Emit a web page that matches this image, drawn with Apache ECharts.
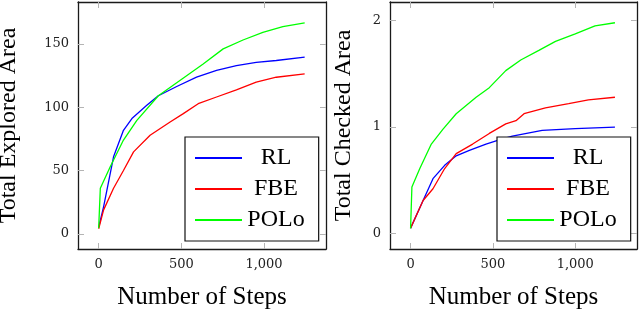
<!DOCTYPE html>
<html>
<head>
<meta charset="utf-8">
<script src="https://cdn.jsdelivr.net/npm/echarts@6/dist/echarts.min.js"></script>
<style>
html,body{margin:0;padding:0;background:#fff;}
#c{width:640px;height:311px;}
</style>
</head>
<body>
<div id="c"></div>
<script>
// ---- data ----
var seriesNames = ['RL', 'FBE', 'POLo'];
var xTicks = [0, 500, 1000];
var yTicksExplored = [0, 50, 100, 150];
var yTicksChecked = [0, 1, 2];

// Left chart: Total Explored Area
var exploredRLSteps = [0, 30, 90, 150, 201, 291, 361, 472, 592, 713, 833, 953, 1074, 1246];
var exploredRLValues = [5, 21.5, 60.8, 81.7, 91, 101.4, 109, 116.3, 123.7, 129, 132.8, 135.4, 136.8, 139.4];
var exploredFBESteps = [0, 30, 90, 150, 211, 311, 432, 512, 602, 713, 833, 953, 1074, 1246];
var exploredFBEValues = [4, 18.9, 36, 50, 64.7, 77.8, 88.3, 94.9, 102.7, 108, 113.7, 119.7, 123.6, 126.3];
var exploredPOLoSteps = [0, 10, 70, 150, 231, 361, 502, 632, 753, 873, 993, 1114, 1246];
var exploredPOLoValues = [4.5, 36, 53, 74, 89.6, 109, 122, 134, 146, 153, 159, 163.5, 166.6];

// Right chart: Total Checked Area
var checkedRLSteps = [0, 76, 136, 207, 277, 357, 458, 538, 618, 799, 1000, 1241];
var checkedRLValues = [0.05, 0.31, 0.515, 0.64, 0.73, 0.78, 0.84, 0.88, 0.915, 0.968, 0.985, 1.0];
var checkedFBESteps = [0, 76, 136, 207, 277, 377, 478, 578, 640, 689, 819, 960, 1080, 1241];
var checkedFBEValues = [0.05, 0.31, 0.42, 0.61, 0.75, 0.84, 0.94, 1.03, 1.06, 1.125, 1.18, 1.22, 1.256, 1.28];
var checkedPOLoSteps = [0, 8, 56, 126, 197, 277, 398, 478, 578, 669, 779, 880, 1000, 1120, 1241];
var checkedPOLoValues = [0.047, 0.437, 0.61, 0.84, 0.98, 1.125, 1.28, 1.37, 1.53, 1.63, 1.72, 1.805, 1.875, 1.95, 1.98];

function zip(xs, ys) { return xs.map(function (x, i) { return [x, ys[i]]; }); }

var colors = { RL: '#0000ff', FBE: '#ff0000', POLo: '#00ff00' };
var serif = 'Liberation Serif, Times New Roman, serif';
var tickFont = 'DejaVu Serif, serif';
var frameColor = '#1a1a1a';
var tickColor = '#b4b4b4';

function fmtNum(v) { return v >= 1000 ? String(v).replace(/\B(?=(\d{3})+(?!\d))/g, ',') : String(v); }

function xAxes(gridIndex, name) {
  var bottom = {
    type: 'value', gridIndex: gridIndex, position: 'bottom', min: -125, max: 1375,
    name: name, nameLocation: 'middle', nameGap: 36,
    nameTextStyle: { fontFamily: serif, fontSize: 25, color: '#000' },
    axisLine: { show: true, onZero: false, lineStyle: { color: frameColor, width: 1.3 } },
    axisTick: { show: true, inside: true, length: 6, customValues: xTicks, lineStyle: { color: tickColor, width: 1 } },
    axisLabel: { show: true, customValues: xTicks, margin: 9, fontFamily: tickFont, fontSize: 13, color: '#222', formatter: fmtNum },
    splitLine: { show: false }
  };
  var top = {
    type: 'value', gridIndex: gridIndex, position: 'top', min: -125, max: 1375,
    axisLine: { show: true, onZero: false, lineStyle: { color: frameColor, width: 1.3 } },
    axisTick: { show: true, inside: true, length: 6, customValues: xTicks, lineStyle: { color: tickColor, width: 1 } },
    axisLabel: { show: false },
    splitLine: { show: false }
  };
  return [bottom, top];
}

function yAxes(gridIndex, name, min, max, ticks, gap) {
  var left = {
    type: 'value', gridIndex: gridIndex, position: 'left', min: min, max: max,
    name: name, nameLocation: 'middle', nameGap: gap,
    nameTextStyle: { fontFamily: serif, fontSize: 24, color: '#000' },
    axisLine: { show: true, onZero: false, lineStyle: { color: frameColor, width: 1.3 } },
    axisTick: { show: true, inside: true, length: 6, customValues: ticks, lineStyle: { color: tickColor, width: 1 } },
    axisLabel: { show: true, customValues: ticks, margin: 9, fontFamily: tickFont, fontSize: 13, color: '#222' },
    splitLine: { show: false }
  };
  var right = {
    type: 'value', gridIndex: gridIndex, position: 'right', min: min, max: max,
    axisLine: { show: true, onZero: false, lineStyle: { color: frameColor, width: 1.3 } },
    axisTick: { show: true, inside: true, length: 6, customValues: ticks, lineStyle: { color: tickColor, width: 1 } },
    axisLabel: { show: false },
    splitLine: { show: false }
  };
  return [left, right];
}

function line(name, xi, yi, data) {
  return {
    type: 'line', name: name, xAxisIndex: xi, yAxisIndex: yi, data: data,
    symbol: 'none', showSymbol: false, smooth: false,
    lineStyle: { color: colors[name], width: 1.3 }, itemStyle: { color: colors[name] },
    emphasis: { disabled: true }
  };
}

function legend(left) {
  return {
    left: left, top: 137, orient: 'vertical', data: seriesNames,
    itemWidth: 47, itemHeight: 24, itemGap: 7,
    padding: [9, 14, 9, 9],
    borderColor: '#111', borderWidth: 1.2, backgroundColor: '#fff',
    selectedMode: false,
    itemStyle: { opacity: 0 },
    formatter: '{t|{name}}',
    textStyle: {
      fontFamily: serif, fontSize: 24, color: '#000',
      rich: { t: { width: 58, align: 'center', fontFamily: serif, fontSize: 24, color: '#000' } }
    }
  };
}

var chart = echarts.init(document.getElementById('c'), null, { renderer: 'canvas' });
chart.setOption({
  animation: false,
  backgroundColor: '#fff',
  grid: [
    { left: 78, top: 2, width: 248, height: 247, containLabel: false, outerBoundsMode: 'none' },
    { left: 390, top: 2, width: 247, height: 247, containLabel: false, outerBoundsMode: 'none' }
  ],
  xAxis: xAxes(0, 'Number of Steps').concat(xAxes(1, 'Number of Steps')),
  yAxis: yAxes(0, 'Total Explored Area', -12, 183, yTicksExplored, 57)
    .concat(yAxes(1, 'Total Checked Area', -0.146, 2.175, yTicksChecked, 34)),
  legend: [legend(185), legend(497)],
  series: [
    line('RL', 0, 0, zip(exploredRLSteps, exploredRLValues)),
    line('FBE', 0, 0, zip(exploredFBESteps, exploredFBEValues)),
    line('POLo', 0, 0, zip(exploredPOLoSteps, exploredPOLoValues)),
    line('RL', 2, 2, zip(checkedRLSteps, checkedRLValues)),
    line('FBE', 2, 2, zip(checkedFBESteps, checkedFBEValues)),
    line('POLo', 2, 2, zip(checkedPOLoSteps, checkedPOLoValues))
  ]
});
</script>
</body>
</html>
